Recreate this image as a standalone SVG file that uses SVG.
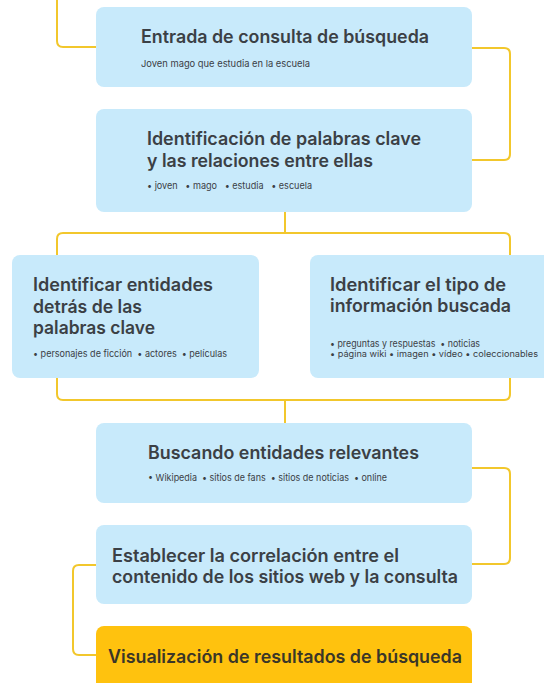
<svg xmlns="http://www.w3.org/2000/svg" width="544" height="683" viewBox="0 0 544 683">
<style>
.box{fill:#C8EAFB}
.hl{fill:#FFC20E}
.t{font-family:Inter,"Noto Sans","Liberation Sans",sans-serif;font-weight:600;font-size:18px;fill:#3B4045}
.s{font-family:Inter,"Noto Sans","Liberation Sans",sans-serif;font-weight:400;font-size:9.3px;fill:#3B4045}
.c{fill:none;stroke:#F2C72C;stroke-width:2;stroke-linejoin:round}
</style>
<rect width="544" height="683" fill="#FFFFFF"/>
<g id="connectors">
<path class="c" d="M57,0 V41 Q57,47 63,47 H96"/>
<path class="c" d="M472,48 H504 Q510,48 510,54 V154 Q510,160 504,160 H472"/>
<path class="c" d="M285,212 V233"/>
<path class="c" d="M57,255 V239 Q57,233 63,233 H504 Q510,233 510,239 V255"/>
<path class="c" d="M57,378 V394 Q57,400 63,400 H504 Q510,400 510,394 V378"/>
<path class="c" d="M285,400 V423"/>
<path class="c" d="M472,468 H504 Q510,468 510,474 V558 Q510,564 504,564 H472"/>
<path class="c" d="M96,565 H79 Q73,565 73,571 V649 Q73,655 79,655 H96"/>
</g>
<g id="n1">
<rect class="box" x="96" y="7" width="376" height="80" rx="8"/>
<text class="t" x="141" y="43" textLength="288" lengthAdjust="spacingAndGlyphs">Entrada de consulta de búsqueda</text>
<text class="s" x="141" y="67" textLength="169" lengthAdjust="spacingAndGlyphs">Joven mago que estudia en la escuela</text>
</g>
<g id="n2">
<rect class="box" x="96" y="109" width="376" height="103" rx="8"/>
<text class="t" x="147" y="145" textLength="274" lengthAdjust="spacingAndGlyphs">Identificación de palabras clave</text>
<text class="t" x="147" y="167" textLength="226" lengthAdjust="spacingAndGlyphs">y las relaciones entre ellas</text>
<text class="s" x="147" y="189" xml:space="preserve" textLength="165" lengthAdjust="spacingAndGlyphs">• joven   • mago   • estudia   • escuela</text>
</g>
<g id="n3">
<rect class="box" x="12" y="255" width="247" height="123" rx="8"/>
<text class="t" x="33" y="291" textLength="180" lengthAdjust="spacingAndGlyphs">Identificar entidades</text>
<text class="t" x="33" y="313" textLength="109" lengthAdjust="spacingAndGlyphs">detrás de las</text>
<text class="t" x="33" y="334" textLength="122" lengthAdjust="spacingAndGlyphs">palabras clave</text>
<text class="s" x="33" y="357" xml:space="preserve" textLength="194" lengthAdjust="spacingAndGlyphs">• personajes de ficción  • actores  • películas</text>
</g>
<g id="n4">
<rect class="box" x="310" y="255" width="244" height="123" rx="8"/>
<text class="t" x="330" y="291" textLength="176" lengthAdjust="spacingAndGlyphs">Identificar el tipo de</text>
<text class="t" x="330" y="312" textLength="181" lengthAdjust="spacingAndGlyphs">información buscada</text>
<text class="s" x="330" y="347" xml:space="preserve" textLength="150" lengthAdjust="spacingAndGlyphs">• preguntas y respuestas  • noticias</text>
<text class="s" x="330" y="357" xml:space="preserve" textLength="208" lengthAdjust="spacingAndGlyphs" style="font-size:8.6px">• página wiki • imagen • vídeo • coleccionables</text>
</g>
<g id="n5">
<rect class="box" x="96" y="423" width="376" height="80" rx="8"/>
<text class="t" x="148" y="459" textLength="271" lengthAdjust="spacingAndGlyphs">Buscando entidades relevantes</text>
<text class="s" x="148" y="481" xml:space="preserve" textLength="239" lengthAdjust="spacingAndGlyphs">• Wikipedia  • sitios de fans  • sitios de noticias  • online</text>
</g>
<g id="n6">
<rect class="box" x="96" y="525" width="376" height="79" rx="8"/>
<text class="t" x="112" y="562" textLength="287" lengthAdjust="spacingAndGlyphs">Establecer la correlación entre el</text>
<text class="t" x="112" y="583" textLength="346" lengthAdjust="spacingAndGlyphs">contenido de los sitios web y la consulta</text>
</g>
<g id="n7">
<rect class="hl" x="96" y="626" width="376" height="70" rx="8"/>
<text class="t" x="108" y="663" textLength="354" lengthAdjust="spacingAndGlyphs" style="fill:#3A3628">Visualización de resultados de búsqueda</text>
</g>
</svg>
